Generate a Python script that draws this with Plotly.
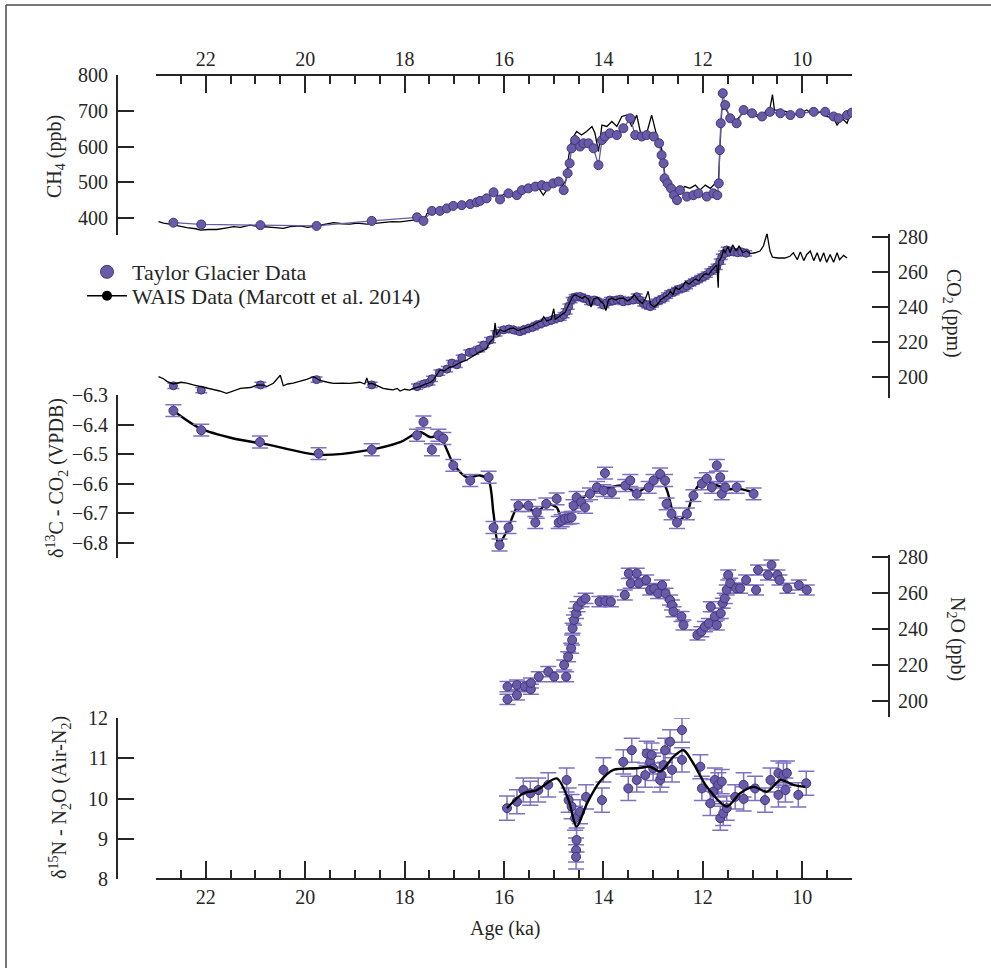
import plotly.graph_objects as go

# ---------------- data (age in ka BP) ----------------
# CH4, WAIS Divide record (ppb)
ch4_wais_age = [22.95, 22.85, 22.72, 22.55, 22.38, 22.2, 22.11, 21.95, 21.78, 21.6, 21.44, 21.3, 21.11, 20.95,
                20.77, 20.6, 20.44, 20.3, 20.10, 19.95, 19.77, 19.6, 19.43, 19.25, 19.10, 18.95, 18.76, 18.6,
                18.43, 18.25, 18.09, 17.95, 17.82, 17.7, 17.6, 17.55, 17.42, 17.3, 17.2, 17.1, 17.0, 16.9,
                16.75, 16.6, 16.48, 16.28, 16.21, 16.11, 15.94, 15.81, 15.61, 15.47, 15.34, 15.21, 15.07,
                14.94, 14.84, 14.75, 14.70, 14.64, 14.54, 14.44, 14.34, 14.23, 14.17, 14.10, 14.03, 13.93,
                13.83, 13.73, 13.63, 13.53, 13.43, 13.33, 13.23, 13.13, 13.03, 12.93, 12.83, 12.76, 12.66,
                12.56, 12.46, 12.36, 12.26, 12.15, 12.06, 11.95, 11.85, 11.75, 11.69, 11.65, 11.62, 11.55,
                11.45, 11.32, 11.18, 11.05, 10.92, 10.78, 10.65, 10.60, 10.56, 10.44, 10.31, 10.18, 10.04,
                9.91, 9.77, 9.64, 9.51, 9.37, 9.30, 9.20, 9.10, 9.04]
ch4_wais = [390, 386, 383, 378, 373, 370, 366, 368, 368, 372, 376, 374, 380, 377,
            376, 373, 371, 376, 378, 374, 378, 382, 387, 384, 383, 386, 383, 385,
            387, 390, 389, 391, 394, 398, 395, 413, 422, 420, 425, 428, 432, 430,
            438, 443, 450, 464, 478, 460, 469, 460, 474, 488, 492, 464, 492,
            506, 488, 506, 572, 618, 642, 632, 642, 656, 637, 586, 660, 656,
            670, 656, 684, 688, 656, 688, 623, 637, 688, 632, 595, 516, 492,
            474, 478, 488, 483, 492, 478, 492, 483, 497, 492, 618, 702, 707,
            684, 674, 697, 693, 684, 693, 707, 745, 702, 702, 697, 688, 693,
            702, 688, 697, 684, 679, 660, 679, 665, 688]

# CH4, Taylor Glacier (ppb)
ch4_tg_age = [22.65, 22.09, 20.90, 19.77, 18.66, 17.75, 17.62, 17.45, 17.29, 17.15, 17.02, 16.85, 16.68,
              16.55, 16.48, 16.35, 16.21, 16.08, 15.91, 15.74, 15.64, 15.51, 15.37, 15.24, 15.14, 15.01,
              14.90, 14.80, 14.72, 14.68, 14.64, 14.57, 14.47, 14.40, 14.30, 14.20, 14.10, 14.03, 13.97,
              13.87, 13.73, 13.60, 13.46, 13.36, 13.23, 13.13, 12.99, 12.88, 12.83, 12.79, 12.77, 12.71,
              12.64, 12.58, 12.52, 12.46, 12.32, 12.19, 12.09, 11.92, 11.79, 11.71, 11.68, 11.66, 11.64,
              11.60, 11.55, 11.45, 11.32, 11.18, 11.01, 10.81, 10.65, 10.44, 10.24, 10.04, 9.77, 9.54,
              9.37, 9.27, 9.10, 9.00]
ch4_tg = [387, 382, 380, 378, 392, 402, 392, 420, 420, 427, 434, 436, 439,
          444, 448, 455, 472, 452, 469, 464, 478, 483, 488, 492, 488, 497,
          502, 478, 525, 553, 595, 618, 600, 609, 609, 595, 548, 618, 628,
          637, 632, 651, 679, 632, 628, 632, 628, 609, 576, 553, 511, 497,
          483, 464, 450, 478, 460, 464, 469, 460, 469, 464, 497, 590, 665,
          749, 716, 679, 665, 702, 693, 684, 697, 693, 688, 693, 697, 697,
          684, 679, 688, 695]

# CO2, WAIS Divide record (ppm)
co2_wais_age = [22.95, 22.85, 22.78, 22.65, 22.5, 22.38, 22.25, 22.11, 21.98, 21.85, 21.72, 21.58, 21.44,
                21.3, 21.1, 20.95, 20.84, 20.77, 20.64, 20.5, 20.44, 20.35, 20.24, 20.1, 19.97, 19.83,
                19.7, 19.55, 19.43, 19.25, 19.1, 18.9, 18.8, 18.76, 18.72, 18.66, 18.55, 18.43, 18.33,
                18.23, 18.15, 18.09, 18.0, 17.9, 17.82, 17.75, 17.69, 17.62, 17.55, 17.48, 17.42, 17.35,
                17.29, 17.2, 17.1, 17.02, 16.9, 16.75, 16.62, 16.48, 16.35, 16.28, 16.21, 16.18, 16.15,
                16.08, 16.0, 15.9, 15.81, 15.72, 15.62, 15.5, 15.42, 15.34, 15.25, 15.2, 15.14, 15.05,
                15.0, 14.97, 14.9, 14.84, 14.77, 14.72, 14.67, 14.62, 14.57, 14.5, 14.43, 14.37, 14.3,
                14.25, 14.2, 14.12, 14.05, 14.0, 13.95, 13.9, 13.83, 13.75, 13.68, 13.6, 13.52, 13.45,
                13.38, 13.3, 13.22, 13.15, 13.1, 13.05, 12.98, 12.9, 12.85, 12.78, 12.7, 12.65, 12.6,
                12.55, 12.48, 12.4, 12.35, 12.28, 12.2, 12.15, 12.08, 12.0, 11.95, 11.88, 11.82, 11.76,
                11.72, 11.69, 11.68, 11.62, 11.58, 11.55, 11.5, 11.45, 11.4, 11.33, 11.27, 11.2, 11.12,
                11.05, 10.95, 10.85, 10.78, 10.71, 10.65, 10.6, 10.5, 10.35, 10.25, 10.18, 10.1, 10.04,
                9.97, 9.91, 9.84, 9.77, 9.7, 9.64, 9.57, 9.51, 9.44, 9.37, 9.3, 9.25, 9.17, 9.1]
co2_wais = [200.2, 199, 197.5, 196, 197, 196.5, 195.5, 194.5, 194, 193, 192, 190.7, 192,
            193.5, 194, 195.5, 195.4, 194.5, 196.4, 201, 195, 196, 196.5, 197.5, 198.7, 200.2,
            198, 197, 196.4, 196.5, 196.4, 197, 196, 199.5, 196, 196.4, 195, 193.5, 193,
            192.6, 193.5, 192, 193, 192.5, 193.5, 194, 194.5, 195.5, 196.4, 197, 198.3, 201,
            204, 203.5, 205.5, 206, 208, 209.7, 212, 214.5, 216, 220, 222, 231, 224,
            227, 226, 227.5, 228, 226.5, 227.5, 228.5, 229.5, 231, 232, 234.5, 232, 233,
            239, 233, 234.5, 236, 237, 240, 243, 246, 247, 246, 245, 246, 244.5,
            240, 244.5, 245.5, 243, 242, 238, 244, 245, 244, 245, 245, 243.5, 244.5,
            247, 244, 242, 245, 249, 241.5, 240, 242, 244, 245.5, 247, 249, 247,
            251, 250, 252, 254.5, 253, 255, 256, 255, 258, 259, 258.5, 261, 262.5,
            264, 251, 266, 269, 273, 271, 274.5, 271, 275.5, 272, 275, 271, 272,
            270.5, 271, 272, 275, 282, 272, 268.5, 268, 268, 269, 271, 267, 271.5,
            266.5, 270, 272, 266.5, 271, 266, 271, 265.5, 270, 265.6, 271, 267, 269.5, 268]

# CO2, Taylor Glacier (ppm)
co2_tg_age = [22.65, 22.09, 20.90, 19.77, 18.66, 17.75, 17.62, 17.50, 17.45, 17.30, 17.15, 17.05, 16.95,
              16.85, 16.70, 16.62, 16.50, 16.41, 16.28, 16.15, 16.01, 15.90, 15.81, 15.68, 15.60, 15.51,
              15.42, 15.34, 15.25, 15.14, 15.04, 14.94, 14.86, 14.80, 14.74, 14.70, 14.64, 14.58, 14.54,
              14.47, 14.40, 14.33, 14.27, 14.18, 14.10, 14.00, 13.93, 13.87, 13.80, 13.73, 13.66, 13.60,
              13.50, 13.40, 13.33, 13.27, 13.20, 13.12, 13.06, 13.00, 12.93, 12.86, 12.79, 12.72, 12.66,
              12.59, 12.52, 12.45, 12.39, 12.32, 12.25, 12.18, 12.12, 12.05, 11.99, 11.92, 11.85, 11.78,
              11.72, 11.66, 11.62, 11.57, 11.52, 11.46, 11.38, 11.30, 11.22, 11.13]
co2_tg = [195, 192.5, 195.5, 198.5, 195.5, 194.5, 196, 197, 199, 202.5, 204.5, 208, 207,
          211, 214, 214.5, 216, 218.3, 221.1, 225, 226.9, 227.5, 226.9, 225.9, 227, 227.8,
          228.5, 229.7, 230.5, 231.6, 232.5, 233.5, 234, 235.4, 237.5, 240.2, 244, 245.5, 245.9,
          246, 245, 244.5, 243, 244, 243, 241.1, 242.5, 244, 243.5, 244, 244.5, 243,
          243.5, 244, 245.9, 244, 242.1, 241, 240.2, 241.5, 243, 244, 245, 246.5, 247.8,
          248.5, 249.7, 250.5, 250.7, 252, 253.5, 254.5, 255.4, 256.5, 257.3, 258.5, 260.2, 261.5,
          263, 266, 268.7, 270.5, 272.6, 271.6, 271.5, 271, 271.5, 270.7]

# d13C-CO2, Taylor Glacier (permil VPDB), 1-sigma
d13c_age = [22.65, 22.09, 20.91, 19.73, 18.66, 17.75, 17.62, 17.45, 17.32, 17.22, 17.02, 16.68, 16.31,
            16.21, 16.09, 15.91, 15.71, 15.51, 15.37, 15.34, 15.15, 14.94, 14.90, 14.84, 14.77, 14.70,
            14.64, 14.60, 14.54, 14.45, 14.37, 14.27, 14.13, 14.00, 13.97, 13.83, 13.56, 13.46, 13.33,
            13.09, 12.99, 12.86, 12.76, 12.73, 12.63, 12.52, 12.32, 12.19, 12.02, 11.92, 11.82, 11.72,
            11.65, 11.62, 11.55, 11.32, 10.98]
d13c = [-6.353, -6.419, -6.459, -6.498, -6.485, -6.436, -6.391, -6.485, -6.436, -6.447, -6.538, -6.589, -6.578,
        -6.748, -6.807, -6.748, -6.674, -6.674, -6.731, -6.697, -6.668, -6.651, -6.731, -6.725, -6.718, -6.716,
        -6.714, -6.674, -6.646, -6.662, -6.680, -6.634, -6.612, -6.623, -6.564, -6.629, -6.606, -6.589, -6.634,
        -6.612, -6.589, -6.567, -6.589, -6.668, -6.702, -6.731, -6.702, -6.640, -6.600, -6.583, -6.612, -6.538,
        -6.578, -6.634, -6.612, -6.612, -6.634]
d13c_err = 0.02

# smoothed d13C-CO2 curve
d13c_fit_age = [22.65, 22.11, 21.44, 20.77, 19.73, 18.76, 18.09, 17.69, 17.49, 17.29, 17.02, 16.75, 16.48,
                16.31, 16.21, 16.11, 15.94, 15.71, 15.54, 15.34, 15.14, 14.94, 14.84, 14.60, 14.40, 14.13,
                13.87, 13.60, 13.33, 13.06, 12.86, 12.72, 12.59, 12.49, 12.32, 12.19, 11.99, 11.79, 11.52,
                11.25, 10.98]
d13c_fit = [-6.353, -6.413, -6.447, -6.467, -6.502, -6.487, -6.459, -6.425, -6.442, -6.442, -6.532, -6.578, -6.572,
            -6.589, -6.702, -6.805, -6.759, -6.674, -6.680, -6.697, -6.668, -6.680, -6.714, -6.691, -6.646, -6.623,
            -6.612, -6.606, -6.629, -6.600, -6.578, -6.623, -6.702, -6.725, -6.697, -6.634, -6.589, -6.600, -6.618,
            -6.618, -6.629]

# N2O, Taylor Glacier (ppb)
n2o_age = [15.93, 15.93, 15.74, 15.74, 15.58, 15.46, 15.46, 15.30, 15.11, 14.99, 14.79, 14.75, 14.71,
           14.65, 14.63, 14.62, 14.59, 14.55, 14.52, 14.44, 14.36, 14.08, 13.96, 13.85, 13.57, 13.49,
           13.45, 13.33, 13.29, 13.14, 13.06, 12.98, 12.90, 12.82, 12.75, 12.66, 12.62, 12.59, 12.43,
           12.39, 12.11, 12.03, 11.96, 11.88, 11.84, 11.76, 11.72, 11.64, 11.60, 11.56, 11.52, 11.49,
           11.45, 11.33, 11.25, 11.13, 10.93, 10.89, 10.69, 10.62, 10.50, 10.46, 10.30, 10.07, 9.91]
n2o = [208, 200.9, 208.9, 203.3, 208, 206.5, 210, 213.5, 216.3, 213.5, 220, 213.5, 224.6,
       229.3, 233.9, 240.4, 245, 248.7, 252.4, 255.2, 257, 255.2, 255.5, 255.2, 258.9, 270.9,
       265.4, 270.9, 265.4, 267.2, 261.7, 262.5, 259.8, 264.4, 259.8, 256.1, 253.3, 249.6, 246.9,
       242.2, 236.7, 238.5, 241.3, 243.1, 252.4, 246.9, 242.2, 248.7, 254.3, 257, 261.7, 270,
       265.4, 262.6, 262.6, 267.2, 261.7, 272.8, 270, 275.6, 270, 267.2, 262.6, 264.4, 261.7]
n2o_err = 2.8

# d15N-N2O, Taylor Glacier (permil vs air N2)
d15n_age = [15.94, 15.74, 15.61, 15.47, 15.31, 15.11, 14.74, 14.70, 14.64, 14.57, 14.55, 14.55, 14.54,
            14.47, 14.35, 14.03, 14.00, 13.60, 13.50, 13.43, 13.33, 13.16, 13.13, 13.06, 13.03, 13.00,
            12.86, 12.83, 12.79, 12.76, 12.66, 12.62, 12.42, 12.42, 12.05, 12.02, 11.85, 11.79, 11.76,
            11.69, 11.65, 11.62, 11.59, 11.52, 11.35, 11.18, 11.18, 10.95, 10.75, 10.64, 10.48, 10.48,
            10.38, 10.34, 10.31, 10.08, 9.92]
d15n = [9.76, 9.92, 10.21, 10.13, 10.21, 10.34, 10.46, 9.96, 9.80, 9.51, 8.72, 8.55, 8.97,
        9.67, 10.04, 9.96, 10.71, 10.91, 10.25, 11.20, 10.46, 10.58, 11.12, 10.91, 11.08, 10.75,
        10.46, 10.58, 10.83, 11.20, 11.41, 10.71, 11.70, 10.96, 10.79, 10.25, 9.88, 10.17, 10.46,
        10.34, 9.51, 10.42, 9.63, 9.76, 10.04, 10.34, 9.99, 10.25, 9.96, 10.46, 10.63, 10.09,
        10.58, 10.21, 10.63, 10.09, 10.38]
d15n_err = 0.3

# smoothed d15N-N2O curve
d15n_fit_age = [15.94, 15.61, 15.34, 14.94, 14.70, 14.54, 14.33, 14.07, 13.80, 13.33, 13.06, 12.86, 12.59,
                12.39, 12.19, 11.92, 11.52, 11.25, 10.98, 10.71, 10.44, 10.18, 9.94]
d15n_fit = [9.76, 10.13, 10.21, 10.50, 9.96, 9.30, 9.88, 10.42, 10.71, 10.75, 10.79, 10.67, 11.04,
            11.20, 10.87, 10.29, 9.80, 10.13, 10.29, 10.17, 10.46, 10.34, 10.29]

# axis ticks
age_range = [23, 9]
ch4_ticks = [400, 500, 600, 700, 800]
co2_ticks = [200, 220, 240, 260, 280]
d13c_ticks = [-6.3, -6.4, -6.5, -6.6, -6.7, -6.8]
n2o_ticks = [200, 220, 240, 260, 280]
d15n_ticks = [8, 9, 10, 11, 12]

# ---------------- layout geometry ----------------
W, H = 991, 968
ML, MR, MT, MB = 117, 102, 75, 89
PW, PH = W - ML - MR, H - MT - MB


def fx(px):
    return (px - ML) / PW


def fy(py):
    return (H - MB - py) / PH


FONT = "Liberation Serif, Times New Roman, serif"
INK = "#262626"
PURPLE = "#6a5ba8"
EDGE = "#40367a"
ERRC = "#7f70c2"

dot = dict(color=PURPLE, size=9, line=dict(color=EDGE, width=1))

fig = go.Figure()

# CH4
fig.add_trace(go.Scatter(x=ch4_wais_age, y=ch4_wais, yaxis="y", mode="lines",
                         line=dict(color="black", width=1.3), showlegend=False))
fig.add_trace(go.Scatter(x=ch4_tg_age, y=ch4_tg, yaxis="y", mode="lines+markers",
                         line=dict(color=PURPLE, width=1.3), marker=dot, showlegend=False))
# CO2
fig.add_trace(go.Scatter(x=co2_tg_age, y=co2_tg, yaxis="y2", mode="markers", marker=dict(dot, size=8),
                         error_y=dict(type="constant", value=1.5, color=ERRC, thickness=1.5, width=6),
                         showlegend=False))
fig.add_trace(go.Scatter(x=co2_wais_age, y=co2_wais, yaxis="y2", mode="lines",
                         line=dict(color="black", width=1.3), showlegend=False))
# d13C
fig.add_trace(go.Scatter(x=d13c_fit_age, y=d13c_fit, yaxis="y3", mode="lines",
                         line=dict(color="black", width=2.4, shape="spline", smoothing=0.8), showlegend=False))
fig.add_trace(go.Scatter(x=d13c_age, y=d13c, yaxis="y3", mode="markers", marker=dot,
                         error_y=dict(type="constant", value=d13c_err, color=ERRC, thickness=1.5, width=8),
                         showlegend=False))
# N2O
fig.add_trace(go.Scatter(x=n2o_age, y=n2o, yaxis="y4", mode="markers", marker=dot,
                         error_y=dict(type="constant", value=n2o_err, color=ERRC, thickness=1.5, width=8),
                         showlegend=False))
# d15N
fig.add_trace(go.Scatter(x=d15n_age, y=d15n, yaxis="y5", mode="markers", marker=dot,
                         error_y=dict(type="constant", value=d15n_err, color=ERRC, thickness=1.5, width=8),
                         showlegend=False))
fig.add_trace(go.Scatter(x=d15n_fit_age, y=d15n_fit, yaxis="y5", mode="lines",
                         line=dict(color="black", width=2.4, shape="spline", smoothing=0.8), showlegend=False))
# top age axis holder
fig.add_trace(go.Scatter(x=[None], y=[None], xaxis="x2", yaxis="y", showlegend=False))

# legend entries (one legend box per entry for exact placement)
fig.add_trace(go.Scatter(x=[None], y=[None], mode="markers", name="Taylor Glacier Data", legend="legend",
                         marker=dict(color=PURPLE, size=13, line=dict(color=EDGE, width=1))))
fig.add_trace(go.Scatter(x=[None], y=[None], mode="lines+markers", name="WAIS Data (Marcott et al. 2014)",
                         legend="legend2", line=dict(color="black", width=1.5),
                         marker=dict(color="black", size=10)))

tickfont = dict(family=FONT, size=20, color=INK)
xdom = [fx(156), fx(852)]
xcommon = dict(domain=xdom, range=age_range, tickmode="linear", tick0=0, dtick=2,
               ticks="inside", ticklen=17, tickwidth=2, tickcolor=INK,
               showline=True, linecolor=INK, linewidth=2, showgrid=False, zeroline=False,
               tickfont=tickfont, anchor="free",
               minor=dict(dtick=0.5, tick0=0, ticks="inside", ticklen=8, tickwidth=1.5,
                          tickcolor=INK, showgrid=False))


def yax(dom_top_px, dom_bot_px, rng, ticks, side):
    return dict(domain=[fy(dom_bot_px), fy(dom_top_px)], range=rng, tickmode="array", tickvals=ticks,
                ticks="inside", ticklen=16, tickwidth=2, tickcolor=INK, showline=True, linecolor=INK,
                linewidth=2, showgrid=False, zeroline=False, tickfont=tickfont, anchor="free",
                position=0 if side == "left" else 1, side=side, ticklabelstandoff=4)


legend_style = dict(xanchor="left", yanchor="top", font=dict(family=FONT, size=22, color=INK),
                    bgcolor="rgba(0,0,0,0)", tracegroupgap=0, itemwidth=40)

fig.update_layout(
    width=W, height=H, margin=dict(l=ML, r=MR, t=MT, b=MB),
    paper_bgcolor="white", plot_bgcolor="rgba(0,0,0,0)",
    font=dict(family=FONT, color=INK),
    xaxis=dict(xcommon, position=0, side="bottom"),
    xaxis2=dict(xcommon, position=1, side="top", overlaying="x"),
    yaxis=yax(75, 235.2, [352, 800], ch4_ticks, "left"),
    yaxis2=yax(233.5, 398, [188, 282], co2_ticks, "right"),
    yaxis3=yax(395, 558, [-6.851, -6.3], d13c_ticks, "left"),
    yaxis4=yax(555.2, 717.2, [191, 281], n2o_ticks, "right"),
    yaxis5=yax(718, 879, [8, 12], d15n_ticks, "left"),
    legend=dict(legend_style, x=fx(82), y=fy(251)),
    legend2=dict(legend_style, x=fx(82), y=fy(275)),
    showlegend=True,
)

titles = [
    ("CH<sub>4</sub> (ppb)", 55, 157, -90),
    ("CO<sub>2</sub> (ppm)", 953, 313, 90),
    ("δ<sup>13</sup>C - CO<sub>2</sub> (VPDB)", 57, 478, -90),
    ("N<sub>2</sub>O (ppb)", 957, 639, 90),
    ("δ<sup>15</sup>N - N<sub>2</sub>O (Air-N<sub>2</sub>)", 60, 798, -90),
    ("Age (ka)", 505, 928, 0),
]
for text, px, py, ang in titles:
    fig.add_annotation(text=text, x=fx(px), y=fy(py), xref="paper", yref="paper",
                       showarrow=False, textangle=ang, xanchor="center", yanchor="middle",
                       font=dict(family=FONT, size=20, color=INK))

# outer frame (top and left edges)
fig.add_shape(type="line", xref="paper", yref="paper", x0=fx(6), x1=fx(995), y0=fy(5), y1=fy(5),
              line=dict(color="#4a4a4a", width=1.5))
fig.add_shape(type="line", xref="paper", yref="paper", x0=fx(6), x1=fx(6), y0=fy(5), y1=fy(972),
              line=dict(color="#4a4a4a", width=1.5))

fig.write_html("out.html", config={"displayModeBar": False})
